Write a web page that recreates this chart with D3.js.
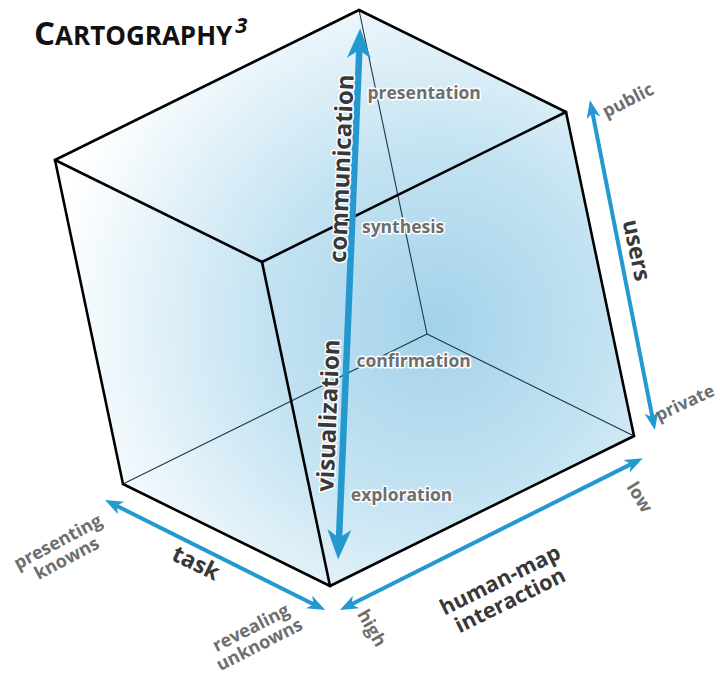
<!DOCTYPE html>
<html>
<head>
<meta charset="utf-8">
<script src="https://cdn.jsdelivr.net/npm/d3@7"></script>
<style>
  body { margin: 0; background: #fff; }
  text { font-family: "Open Sans", sans-serif; font-weight: 700; }
</style>
</head>
<body>
<svg id="chart" width="720" height="675"></svg>
<script>
// Cube corners in (task, interaction, users) space, 0..1
const cornerNames = ['FB', 'LB', 'RB', 'FT', 'UL', 'RT', 'T', 'BK'];
const cornerCoords = [[0, 0, 0], [1, 0, 0], [0, 1, 0], [0, 0, 1], [1, 0, 1], [0, 1, 1], [1, 1, 1], [1, 1, 0]];
const visibleEdges = [['T', 'UL'], ['T', 'RT'], ['UL', 'FT'], ['FT', 'RT'], ['UL', 'LB'], ['FT', 'FB'], ['RT', 'RB'], ['LB', 'FB'], ['FB', 'RB']];
const hiddenEdges = [['BK', 'LB'], ['BK', 'RB'], ['BK', 'T']];
const outline = ['T', 'RT', 'RB', 'FB', 'LB', 'UL'];

// Stages along the main diagonal (top to bottom)
const stages = ['presentation', 'synthesis', 'confirmation', 'exploration'];
const mainAxisNames = ['communication', 'visualization'];
const taskPoles = ['presenting knowns', 'revealing unknowns'];
const interactionPoles = ['low', 'high'];
const userPoles = ['public', 'private'];

const svg = d3.select('#chart');
const blue = '#2399d0';

// One linear scale per cube axis (screen offset per unit), summed for projection
const origin = [330, 586];
const taskX = d3.scaleLinear().domain([0, 1]).range([0, -207]);
const taskY = d3.scaleLinear().domain([0, 1]).range([0, -102]);
const interX = d3.scaleLinear().domain([0, 1]).range([0, 304]);
const interY = d3.scaleLinear().domain([0, 1]).range([0, -150]);
const userX = d3.scaleLinear().domain([0, 1]).range([0, -68]);
const userY = d3.scaleLinear().domain([0, 1]).range([0, -324]);

function project(p) {
    return [origin[0] + taskX(p[0]) + interX(p[1]) + userX(p[2]),
            origin[1] + taskY(p[0]) + interY(p[1]) + userY(p[2])];
}

const corner = {};
cornerNames.forEach((n, i) => corner[n] = project(cornerCoords[i]));

// Gradient fill
const defs = svg.append('defs');
const grad = defs.append('radialGradient')
    .attr('id', 'cubeFill')
    .attr('gradientUnits', 'userSpaceOnUse')
    .attr('cx', corner.BK[0] + 10).attr('cy', corner.BK[1] - 10)
    .attr('r', 390);
grad.append('stop').attr('offset', '0%').attr('stop-color', '#a3d2ea');
grad.append('stop').attr('offset', '45%').attr('stop-color', '#c4e3f2');
grad.append('stop').attr('offset', '100%').attr('stop-color', '#ffffff');

const line = d3.line();

svg.append('path')
    .attr('d', line(outline.map(n => corner[n])) + 'Z')
    .style('fill', 'url(#cubeFill)');

svg.append('g').selectAll('line')
    .data(hiddenEdges)
    .enter()
    .append('line')
    .attr('x1', d => corner[d[0]][0]).attr('y1', d => corner[d[0]][1])
    .attr('x2', d => corner[d[1]][0]).attr('y2', d => corner[d[1]][1])
    .style('stroke', '#1e3646')
    .style('stroke-width', 1.1);

svg.append('g').selectAll('line')
    .data(visibleEdges)
    .enter()
    .append('line')
    .attr('x1', d => corner[d[0]][0]).attr('y1', d => corner[d[0]][1])
    .attr('x2', d => corner[d[1]][0]).attr('y2', d => corner[d[1]][1])
    .style('stroke', '#000')
    .style('stroke-width', 2.6)
    .style('stroke-linecap', 'round');

// Double-headed arrow between two screen points
function drawArrow(g, a, b, width, headLen, headWid) {
    const dx = b[0] - a[0], dy = b[1] - a[1];
    const len = Math.hypot(dx, dy);
    const ux = dx / len, uy = dy / len;
    const px = -uy, py = ux;
    const head = (tip, sx, sy) => {
        const back = [tip[0] - sx * headLen, tip[1] - sy * headLen];
        const notch = [tip[0] - sx * headLen * 0.72, tip[1] - sy * headLen * 0.72];
        return [tip,
                [back[0] + px * headWid / 2, back[1] + py * headWid / 2],
                notch,
                [back[0] - px * headWid / 2, back[1] - py * headWid / 2]];
    };
    g.append('line')
        .attr('x1', a[0] + ux * headLen * 0.6).attr('y1', a[1] + uy * headLen * 0.6)
        .attr('x2', b[0] - ux * headLen * 0.6).attr('y2', b[1] - uy * headLen * 0.6)
        .style('stroke', blue)
        .style('stroke-width', width);
    g.append('path').attr('d', line(head(a, -ux, -uy)) + 'Z').style('fill', blue);
    g.append('path').attr('d', line(head(b, ux, uy)) + 'Z').style('fill', blue);
}

const arrows = svg.append('g');
// main diagonal arrow (top to bottom)
const mainTop = project([0.96, 0.97, 0.97]);
const mainBottom = project([0.04, 0.063, 0.04]);
drawArrow(arrows, mainTop, mainBottom, 6.5, 30, 24);
// users axis arrow
const usersTop = project([0, 1.079, 1.0]);
const usersBottom = project([0, 1.066, -0.012]);
drawArrow(arrows, usersTop, usersBottom, 4, 18, 14);
// task axis arrow
const taskStart = project([0.965, -0.083, 0]);
const taskEnd = project([-0.106, -0.088, 0]);
drawArrow(arrows, taskStart, taskEnd, 4, 18, 14);
// interaction axis arrow
const interStart = project([-0.142, -0.064, 0]);
const interEnd = project([-0.13, 0.94, 0]);
drawArrow(arrows, interStart, interEnd, 4, 18, 14);

// Point along main arrow, u in 0..1 from top
function onMain(u) {
    return [mainTop[0] + (mainBottom[0] - mainTop[0]) * u, mainTop[1] + (mainBottom[1] - mainTop[1]) * u];
}
const mainAngle = Math.atan2(mainTop[1] - mainBottom[1], mainTop[0] - mainBottom[0]) * 180 / Math.PI;

// Text helper: multi-line label centred at point p, rotated by angle
function label(p, lines, angle, size, color, anchor, halo) {
    const g = svg.append('g').attr('transform', `translate(${p[0]},${p[1]}) rotate(${angle})`);
    const t = g.append('text')
        .attr('text-anchor', anchor || 'middle')
        .style('font-size', size + 'px')
        .style('fill', color);
    if (halo) {
        t.style('stroke', '#fff').style('stroke-width', 3).style('paint-order', 'stroke').style('stroke-linejoin', 'round');
    }
    const n = lines.length;
    lines.forEach((s, i) => {
        t.append('tspan')
            .attr('x', 0)
            .attr('y', (i - (n - 1) / 2) * size * 1.05)
            .attr('dy', '0.35em')
            .text(s);
    });
}

const grey = '#6e6e6e';
const dark = '#383838';

// Stage labels along the diagonal
stages.forEach((s, i) => {
    const p = onMain(0.122 + i * 0.2523);
    label([p[0] + 10, p[1]], [s], 0, 17.5, grey, 'start', true);
});

// Main axis names
label((p => [p[0] - 13, p[1]])(onMain(0.264)), [mainAxisNames[0]], mainAngle, 24, dark, 'middle', true);
label((p => [p[0] - 16, p[1]])(onMain(0.729)), [mainAxisNames[1]], mainAngle, 24, dark, 'middle', true);

// Axis names
label(project([0.4366, -0.1435, 0]), ['task'], 26.2, 23, dark);
label(project([-0.4426, 0.2743, 0]), ['human-map', 'interaction'], -26.3, 21.5, dark);
label(project([0, 1.125, 0.516]), ['users'], 78, 23, dark);

// Poles
label(project([0.824, -0.32, 0]), taskPoles[0].split(' '), -28, 18, grey);
label(project([-0.0637, -0.29, 0]), taskPoles[1].split(' '), -27, 18, grey);
label(project([-0.313, 0.806, 0]), [interactionPoles[0]], 58, 18, grey);
label(project([-0.307, -0.071, 0]), [interactionPoles[1]], 60, 18, grey);
label(project([0, 1.192, 0.948]), [userPoles[0]], -27, 18, grey);
label(project([0, 1.172, 0.0235]), [userPoles[1]], -25, 17.5, grey);

// Title
const title = svg.append('text')
    .attr('x', 34).attr('y', 45)
    .style('fill', '#111');
title.append('tspan').style('font-size', '33px').text('C');
title.append('tspan').style('font-size', '26px').text('ARTOGRAPHY');
title.append('tspan').style('font-size', '22px').style('font-style', 'italic')
    .attr('dx', 3).attr('dy', -12).text('3');
</script>
</body>
</html>
